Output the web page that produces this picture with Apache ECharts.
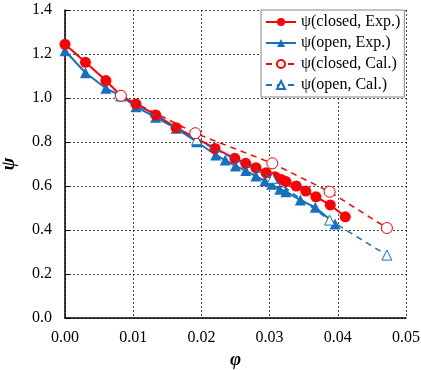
<!DOCTYPE html>
<html><head><meta charset="utf-8">
<script src="https://cdn.jsdelivr.net/npm/echarts@6/dist/echarts.min.js"></script>
<style>html,body{margin:0;padding:0;background:#fff}#c{width:421px;height:370px}</style>
</head><body><div id="c"></div>
<script>
const closedExpX = [0.0000,0.0030,0.0060,0.0082,0.0104,0.0133,0.0163,0.0220,0.0249,0.0265,0.0280,0.0295,0.0308,0.0317,0.0324,0.0339,0.0353,0.0368,0.0389,0.0411];
const closedExpY = [1.244,1.162,1.079,1.010,0.973,0.923,0.865,0.771,0.726,0.703,0.683,0.660,0.642,0.630,0.620,0.600,0.577,0.551,0.514,0.460];
const openExpX = [0.0000,0.0030,0.0060,0.0082,0.0104,0.0133,0.0163,0.0193,0.0221,0.0235,0.0250,0.0265,0.0280,0.0293,0.0303,0.0315,0.0324,0.0345,0.0367,0.0396];
const openExpY = [1.215,1.115,1.044,1.010,0.960,0.912,0.862,0.801,0.741,0.718,0.691,0.670,0.645,0.623,0.608,0.585,0.574,0.536,0.503,0.427];
const closedCalX = [0.0082,0.0191,0.0304,0.0388,0.0472];
const closedCalY = [1.010,0.840,0.703,0.574,0.409];
const openCalX = [0.0082,0.0193,0.0304,0.0388,0.0472];
const openCalY = [1.010,0.810,0.635,0.445,0.286];
const names = ['ψ(closed, Exp.)','ψ(open, Exp.)','ψ(closed, Cal.)','ψ(open, Cal.)'];

const RED = '#ff0000', BLUE = '#1570c0';
const font = 'Liberation Serif';
const zip = (a,b) => a.map((v,i)=>[v,b[i]]);
const chart = echarts.init(document.getElementById('c'), null, {renderer:'canvas'});
chart.setOption({
  animation:false,
  backgroundColor:'#fff',
  grid:{left:65,right:15,top:10,bottom:52,containLabel:false,outerBoundsMode:'none'},
  legend:{
    left:261, top:10, orient:'vertical', itemGap:5, itemWidth:30, itemHeight:10,
    padding:[4,4,4,4], borderColor:'#888', borderWidth:1, backgroundColor:'#fff',
    textStyle:{fontFamily:font,fontSize:16,color:'#000'},
    data:names
  },
  xAxis:{type:'value',min:0,max:0.05,interval:0.01,
    name:'φ',nameLocation:'middle',nameGap:32,
    nameTextStyle:{fontFamily:font,fontSize:19,fontWeight:'bold',fontStyle:'italic',color:'#000'},
    axisLine:{onZero:false,lineStyle:{color:'#000',width:1.5}},
    axisTick:{show:false},
    axisLabel:{fontFamily:font,fontSize:16,color:'#000',margin:12,formatter:v=>v.toFixed(2)},
    splitLine:{show:true,lineStyle:{color:'#444',type:[2,2],width:1}}
  },
  yAxis:{type:'value',min:0,max:1.4,interval:0.2,
    name:'ψ',nameLocation:'middle',nameGap:46,nameRotate:90,
    nameTextStyle:{fontFamily:font,fontSize:19,fontWeight:'bold',fontStyle:'italic',color:'#000'},
    axisLine:{onZero:false,lineStyle:{color:'#000',width:1.5}},
    axisTick:{show:true,inside:true,length:5,lineStyle:{color:'#000'}},
    axisLabel:{fontFamily:font,fontSize:16,color:'#000',margin:13,formatter:v=>v.toFixed(1)},
    splitLine:{show:true,lineStyle:{color:'#444',type:[2,2],width:1}}
  },
  series:[
    {name:names[0],type:'line',data:zip(closedExpX,closedExpY),symbol:'circle',symbolSize:11,
     lineStyle:{color:RED,width:2},itemStyle:{color:RED},z:3},
    {name:names[1],type:'line',data:zip(openExpX,openExpY),symbol:'triangle',symbolSize:11,
     lineStyle:{color:BLUE,width:2},itemStyle:{color:BLUE},z:2},
    {name:names[2],type:'line',data:zip(closedCalX,closedCalY),symbol:'circle',symbolSize:11,
     lineStyle:{color:RED,width:1.5,type:[6,5]},itemStyle:{color:'#fff',borderColor:RED,borderWidth:1},z:5},
    {name:names[3],type:'line',data:zip(openCalX,openCalY),symbol:'triangle',symbolSize:10,
     lineStyle:{color:BLUE,width:1.5,type:[6,5]},itemStyle:{color:'#fff',borderColor:BLUE,borderWidth:1},z:4}
  ]
});
</script></body></html>
